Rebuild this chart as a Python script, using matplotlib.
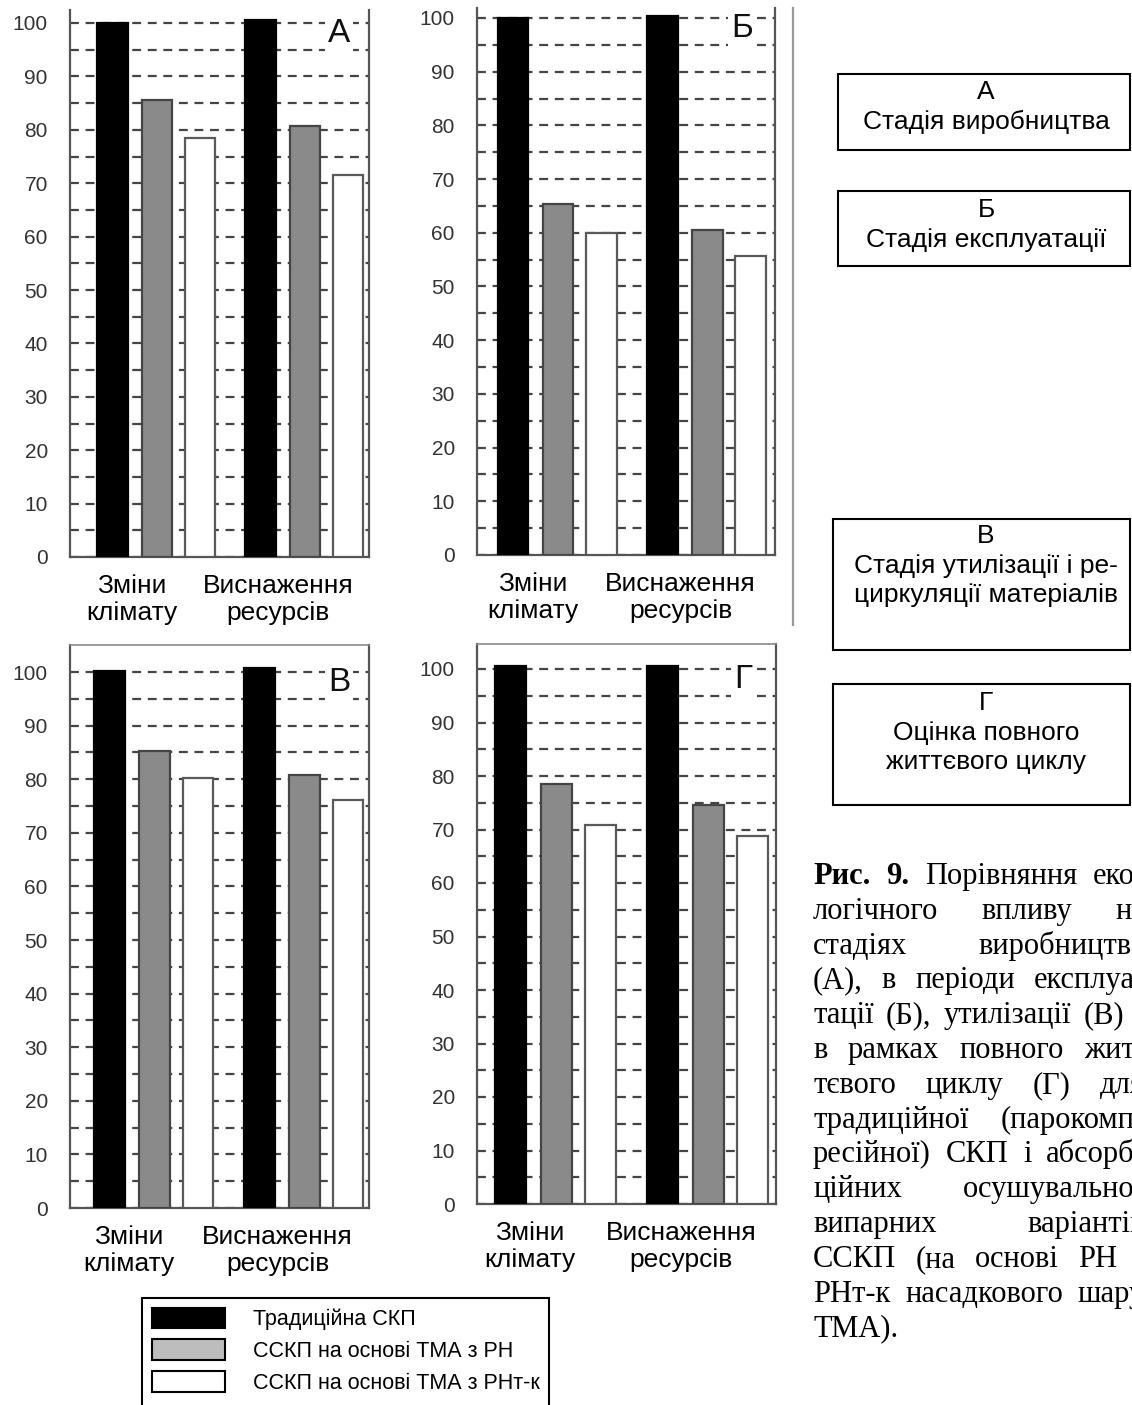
import matplotlib
matplotlib.use('Agg')
import matplotlib.pyplot as plt
from matplotlib.patches import Patch, Rectangle
from matplotlib.lines import Line2D

plt.rcParams['font.family'] = ['Liberation Sans', 'DejaVu Sans']

W, H = 1132, 1405

# ---------------- data ----------------
categories = ['Зміни\nклімату', 'Виснаження\nресурсів']
series_names = ['Традиційна СКП', 'ССКП на основі ТМА з РН', 'ССКП на основі ТМА з РНт-к']
panel_letters = ['А', 'Б', 'В', 'Г']

# values: [traditional, TMA with RN, TMA with RNt-k], each for [climate, resources]
values_A = [[100.0, 100.5], [85.5, 80.7], [78.5, 71.5]]
values_B = [[100.0, 100.3], [65.4, 60.5], [60.0, 55.7]]
values_V = [[100.2, 100.7], [85.3, 80.7], [80.3, 76.1]]
values_G = [[100.5, 100.5], [78.5, 74.5], [70.8, 68.8]]
panel_values = [values_A, values_B, values_V, values_G]

y_ticks = list(range(0, 101, 5))
y_ticklabels = [str(v) if v % 10 == 0 else '' for v in y_ticks]

stage_boxes = [('А', 'Стадія виробництва'),
               ('Б', 'Стадія експлуатації'),
               ('В', 'Стадія утилізації і ре-\nциркуляції матеріалів'),
               ('Г', 'Оцінка повного\nжиттєвого циклу')]

caption_lines = [
    'Рис. 9. Порівняння еко-',
    'логічного впливу на',
    'стадіях виробництва',
    '(А), в періоди експлуа-',
    'тації (Б), утилізації (В) і',
    'в рамках повного жит-',
    'тєвого циклу (Г) для',
    'традиційної (парокомп-',
    'ресійної) СКП і абсорб-',
    'ційних осушувально-',
    'випарних варіантів',
    'ССКП (на основі РН і',
    'РНт-к насадкового шару',
    'ТМА).',
]

# ---------------- layout (pixels) ----------------
# x_left, x_right, y_zero_px, y_100_px, y_top_px, xlim, top spine visible
panel_layout = [
    (70, 369, 557, 23, 10, (-0.588, 1.432), False),
    (477, 775, 555, 18, 8, (-0.542, 1.452), False),
    (70, 369, 1208, 672, 645, (-0.563, 1.430), True),
    (477, 776, 1204, 669, 644, (-0.521, 1.446), True),
]

bar_offsets = [-0.30, 0.0, 0.29]
bar_width = 0.205
bar_face = ['#000000', '#8a8a8a', '#ffffff']
bar_edge = ['#000000', '#454545', '#5a5a5a']
cat_pos = [0, 1]
label_pos = [-0.17, 0.82]

fig = plt.figure(figsize=(W / 100, H / 100), dpi=100)

for (x0, x1, yz, y100, ytop, xl, topvis), vals, letter in zip(panel_layout, panel_values, panel_letters):
    ax = fig.add_axes([x0 / W, 1 - yz / H, (x1 - x0) / W, (yz - ytop) / H])
    pxu = (yz - y100) / 100.0
    ymax = (yz - ytop) / pxu
    for s in range(3):
        ax.bar([c + bar_offsets[s] for c in cat_pos], vals[s], width=bar_width,
               color=bar_face[s], edgecolor=bar_edge[s], linewidth=1.6, zorder=3)
    ax.set_xlim(*xl)
    ax.set_ylim(0, ymax)
    ax.set_yticks(y_ticks)
    ax.set_yticklabels(y_ticklabels)
    ax.set_axisbelow(True)
    ax.yaxis.grid(True, linestyle=(0, (4, 3)), color='#454545', linewidth=1.6)
    ax.tick_params(axis='y', length=0, pad=16, labelsize=15, labelcolor='#333333')
    ax.set_xticks(label_pos)
    ax.set_xticklabels(categories, fontsize=19, linespacing=1.15)
    ax.tick_params(axis='x', length=0, pad=12)
    for sp in ['left', 'right', 'bottom']:
        ax.spines[sp].set_color('#555555')
        ax.spines[sp].set_linewidth(1.6)
    ax.spines['top'].set_visible(topvis)
    ax.spines['top'].set_color('#8a8a8a')
    ax.spines['top'].set_linewidth(1.2)
    ax.text(1.23, 98, letter, fontsize=24, ha='center', va='center', zorder=5,
            color='#111111', bbox=dict(facecolor='white', edgecolor='none', pad=2))

# vertical divider
fig.add_artist(Line2D([793 / W, 793 / W], [1 - 8 / H, 1 - 625 / H],
                      transform=fig.transFigure, color='#9a9a9a', linewidth=1.6))

# legend (frame continues below the bottom edge, as in the source)
leg_top = 1298
handles = [Patch(facecolor='#000000', edgecolor='#000000', linewidth=1.5),
           Patch(facecolor='#bdbdbd', edgecolor='#000000', linewidth=1.5),
           Patch(facecolor='#ffffff', edgecolor='#000000', linewidth=1.5)]
leg = fig.legend(handles, series_names, loc='upper left',
                 bbox_to_anchor=(142 / W, 1 - leg_top / H), borderaxespad=0,
                 fontsize=15.5, handlelength=3.4, handleheight=1.1,
                 labelspacing=0.42, handletextpad=1.3, borderpad=0.45,
                 frameon=False)
fig.add_artist(Rectangle((142 / W, 1 - 1430 / H), (549 - 142) / W, (1430 - leg_top) / H,
                         transform=fig.transFigure, fill=False,
                         edgecolor='black', linewidth=1.5))

# stage boxes on the right
box_geom = [(838, 1130, 74, 150, [92, 122]),
            (838, 1130, 191, 266, [210, 240]),
            (833, 1130, 519, 650, [536, 566, 595]),
            (833, 1130, 684, 805, [703, 733, 762])]
for (bx0, bx1, by0, by1, ys), (lt, txt) in zip(box_geom, stage_boxes):
    fig.add_artist(Rectangle((bx0 / W, 1 - by1 / H), (bx1 - bx0) / W, (by1 - by0) / H,
                             transform=fig.transFigure, fill=False,
                             edgecolor='black', linewidth=1.5))
    lines = [lt] + txt.split('\n')
    for yy, ln in zip(ys, lines):
        fig.text(986 / W, 1 - yy / H, ln, ha='center', va='center', fontsize=19)

# caption (justified, running past the right edge like the source)
renderer = fig.canvas.get_renderer()
cap_x0, cap_x1 = 813, 1145
base0, step = 884, 34.8
cap_fs = 22
for i, line in enumerate(caption_lines):
    words = line.split(' ')
    objs = []
    for w in words:
        bold = (i == 0 and w in ('Рис.', '9.'))
        t = fig.text(0, 0, w, fontsize=cap_fs, family=['Liberation Serif', 'DejaVu Serif'],
                     weight='bold' if bold else 'normal', ha='left', va='baseline')
        objs.append(t)
    widths = [o.get_window_extent(renderer).width for o in objs]
    yb = base0 + i * step
    if i == len(caption_lines) - 1 or len(words) == 1:
        gap = cap_fs * 1.389 * 0.25
    else:
        gap = (cap_x1 - cap_x0 - sum(widths)) / (len(words) - 1)
    x = cap_x0
    for o, wd in zip(objs, widths):
        o.set_position((x / W, 1 - yb / H))
        x += wd + gap

fig.savefig('out.png', dpi=100)
